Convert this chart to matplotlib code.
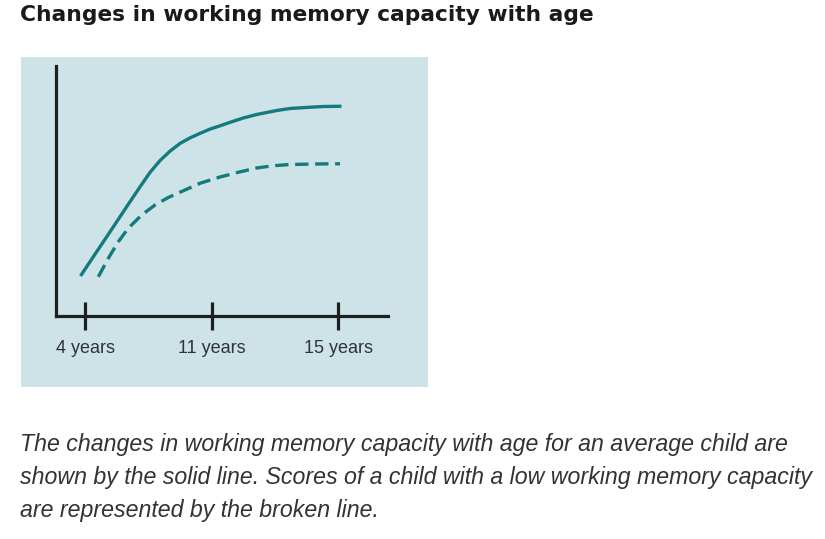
import matplotlib
matplotlib.use("Agg")
import matplotlib.pyplot as plt
from matplotlib.patches import Rectangle

# ---- data ----
title = "Changes in working memory capacity with age"
tick_labels = ["4 years", "11 years", "15 years"]
tick_pos = [0, 1, 2]

# average child (solid line)
avg_x = [-0.038, 0.090, 0.209, 0.340, 0.432, 0.511, 0.591, 0.671, 0.751, 0.830,
         0.909, 0.988, 1.067, 1.146, 1.249, 1.355, 1.513, 1.618, 1.776, 1.881, 2.025]
avg_y = [16.0, 25.7, 34.7, 44.7, 51.6, 57.4, 62.2, 66.0, 69.1, 71.3,
         73.1, 74.8, 76.1, 77.5, 79.2, 80.6, 82.2, 83.0, 83.5, 83.8, 83.9]

# child with low working memory capacity (broken line)
low_x = [0.103, 0.182, 0.261, 0.340, 0.446, 0.551, 0.656, 0.788, 0.907,
         1.065, 1.210, 1.355, 1.484, 1.618, 1.816, 2.014]
low_y = [15.7, 23.1, 29.7, 35.1, 40.4, 44.4, 47.4, 50.4, 53.1,
         55.6, 57.5, 59.2, 60.1, 60.6, 60.8, 60.9]

caption_lines = [
    "The changes in working memory capacity with age for an average child are",
    "shown by the solid line. Scores of a child with a low working memory capacity",
    "are represented by the broken line.",
]

# ---- style ----
W, H = 825, 539
panel_color = "#cde3e8"
line_color = "#137a7e"
axis_color = "#1e1e1e"

fig = plt.figure(figsize=(W / 100, H / 100), dpi=100)
fig.patch.set_facecolor("white")

def fx(px):
    return px / W

def fy(py):
    return 1 - py / H

# panel background
fig.add_artist(Rectangle((fx(21), fy(387)), fx(428) - fx(21), fy(57) - fy(387),
                         transform=fig.transFigure, facecolor=panel_color,
                         edgecolor="none", zorder=0))

ax = fig.add_axes([fx(55.7), fy(316), fx(388) - fx(55.7), fy(66) - fy(316)])
ax.patch.set_alpha(0)
ax.set_xlim(-0.234, 2.393)
ax.set_ylim(0, 100)

ax.plot(avg_x, avg_y, color=line_color, lw=2.4, solid_capstyle="butt",
        solid_joinstyle="round", zorder=3)
ax.plot(low_x, low_y, color=line_color, lw=2.4, dashes=(4.0, 2.0),
        dash_capstyle="butt", dash_joinstyle="round", zorder=3)

for s in ["top", "right"]:
    ax.spines[s].set_visible(False)
for s in ["left", "bottom"]:
    ax.spines[s].set_color(axis_color)
    ax.spines[s].set_linewidth(2.3)
    ax.spines[s].set_capstyle("projecting")

ax.set_yticks([])
ax.set_xticks(tick_pos)
ax.set_xticklabels(tick_labels, fontfamily="Liberation Sans", fontsize=13, color="#333333")
ax.tick_params(axis="x", direction="inout", length=20, width=2.3, color=axis_color, pad=7)

fig.text(fx(20), fy(21), title, fontfamily="DejaVu Sans", fontweight="bold",
         fontsize=15.7, color="#1a1a1a", va="baseline", ha="left")

for i, line in enumerate(caption_lines):
    fig.text(fx(20), fy(451 + 33.2 * i), line, fontfamily="Liberation Sans", fontstyle="italic",
             fontsize=16.7, color="#333333", va="baseline", ha="left")

fig.savefig("out.png", dpi=100, facecolor="white")
